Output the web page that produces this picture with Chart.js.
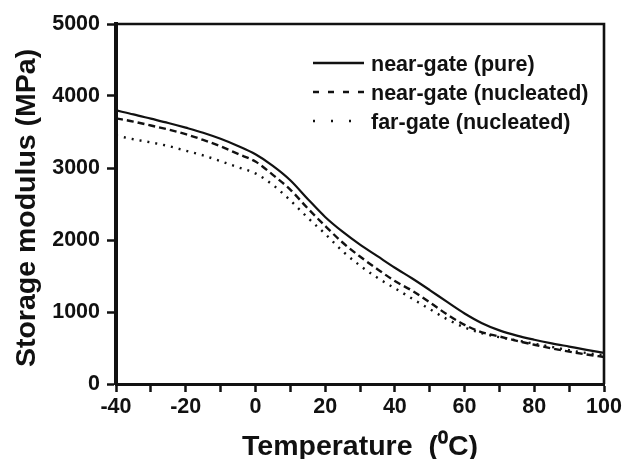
<!DOCTYPE html>
<html><head><meta charset="utf-8">
<script src="https://cdn.jsdelivr.net/npm/chart.js@4.4.1/dist/chart.umd.min.js"></script>
<style>html,body{margin:0;padding:0;background:#fff;} #wrap{width:626px;height:459px;}</style>
</head><body><div id="wrap"><canvas id="c" width="626" height="459"></canvas></div>
<script>
const temperatures = [-40,-35,-30,-25,-20,-15,-10,-5,0,5,10,15,20,25,30,35,40,45,50,55,60,65,70,75,80,85,90,95,100];
const nearGatePure = [3800,3745,3685,3625,3560,3490,3405,3305,3190,3030,2830,2570,2320,2115,1935,1775,1615,1465,1305,1140,980,845,745,672,615,565,520,475,432];
const nearGateNucleated = [3690,3645,3590,3535,3470,3390,3300,3195,3090,2905,2700,2440,2195,1965,1770,1595,1430,1295,1135,965,822,718,660,600,545,495,450,410,375];
const farGateNucleated = [3450,3400,3355,3305,3240,3175,3095,3010,2925,2765,2550,2310,2085,1845,1645,1475,1330,1185,1040,900,785,705,650,605,560,515,470,430,400];
const seriesNames = ['near-gate (pure)','near-gate (nucleated)','far-gate (nucleated)'];
const yTickValues = [0,1000,2000,3000,4000,5000];
const xTickLabels = [-40,-20,0,20,40,60,80,100];
const xTitle = 'Temperature  (\u2070C)';
const yTitle = 'Storage modulus (MPa) ';

const INK = '#111';
const dashes = [[], [7,4], [2,6]];
const legendDashes = [[], [6,9], [2,16]];

function mk(name, vals, i){
  return {
    label: name,
    data: temperatures.map((t,k)=>({x:t, y:vals[k]})),
    borderColor: INK, backgroundColor: INK,
    borderWidth: i===0 ? 2.2 : 2.4,
    borderDash: dashes[i],
    pointRadius: 0, fill: false,
    cubicInterpolationMode: 'monotone'
  };
}

const framePlugin = {
  id: 'frameAndLegend',
  afterDatasetsDraw(chart){
    const {ctx, chartArea:a} = chart;
    ctx.save();
    ctx.strokeStyle = INK; ctx.lineWidth = 2.6; ctx.setLineDash([]);
    ctx.beginPath();
    ctx.moveTo(a.left, a.top); ctx.lineTo(a.right, a.top); ctx.lineTo(a.right, a.bottom);
    ctx.stroke();
    const rows = [63, 92, 121];
    ctx.font = 'bold 21.5px "Liberation Sans", Arial, sans-serif';
    ctx.textBaseline = 'middle';
    ctx.fillStyle = INK;
    seriesNames.forEach((n,i)=>{
      ctx.lineWidth = 2.4;
      ctx.setLineDash(legendDashes[i]);
      ctx.beginPath(); ctx.moveTo(313, rows[i]); ctx.lineTo(364, rows[i]); ctx.stroke();
      ctx.setLineDash([]);
      ctx.fillText(n, 371, rows[i] + 2);
    });
    ctx.restore();
  }
};

const tickFont = {family: '"Liberation Sans", Arial, sans-serif', size: 21.5, weight: 'bold'};
const titleFont = {family: '"Liberation Sans", Arial, sans-serif', size: 28.5, weight: 'bold', lineHeight: 0.8};

new Chart(document.getElementById('c'), {
  type: 'line',
  data: { datasets: [
    mk(seriesNames[0], nearGatePure, 0),
    mk(seriesNames[1], nearGateNucleated, 1),
    mk(seriesNames[2], farGateNucleated, 2)
  ]},
  options: {
    responsive: false, animation: false, devicePixelRatio: 1,
    layout: { padding: { top: 24, right: 22, left: 0, bottom: 0 } },
    plugins: { legend: {display:false}, tooltip: {enabled:false} },
    scales: {
      x: {
        type: 'linear', min: -40, max: 100,
        afterFit(s){ s.height = 75; },
        afterBuildTicks(s){ s.ticks = []; for (let v=-40; v<=100; v+=10) s.ticks.push({value:v}); },
        ticks: { autoSkip:false, maxRotation:0, color: INK, font: tickFont, padding: 2,
          callback: (v)=> xTickLabels.includes(v) ? String(v) : '' },
        grid: { drawOnChartArea:false, drawTicks:true, tickLength: 8, tickWidth: 2.5, tickColor: INK },
        border: { display:true, color: INK, width: 3 },
        title: { display:true, text: xTitle, color: INK, font: titleFont, padding: {top:0, bottom:0} }
      },
      y: {
        type: 'linear', min: 0, max: 5000,
        afterFit(s){ s.width = 116; },
        afterBuildTicks(s){ s.ticks = yTickValues.map(v=>({value:v})); },
        ticks: { color: INK, font: tickFont, padding: 7, callback: (v)=> String(v) },
        grid: { drawOnChartArea:false, drawTicks:true, tickLength: 9, tickWidth: 2.5, tickColor: INK },
        border: { display:true, color: INK, width: 4 },
        title: { display:true, text: yTitle, color: INK, font: titleFont, padding: {top:16, bottom:0} }
      }
    }
  },
  plugins: [framePlugin]
});
</script></body></html>
